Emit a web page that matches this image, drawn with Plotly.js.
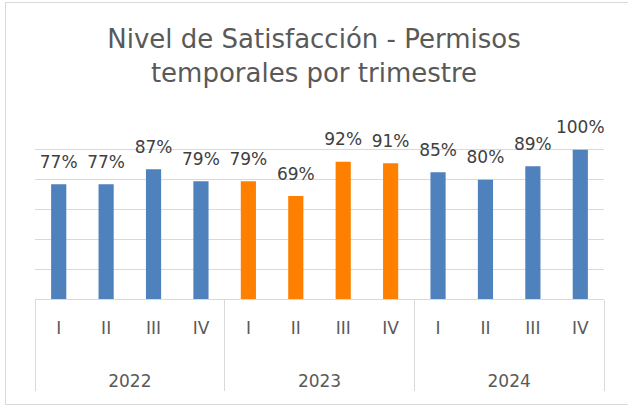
<!DOCTYPE html>
<html>
<head>
<meta charset="utf-8">
<script src="https://cdn.plot.ly/plotly-3.0.1.min.js"></script>
<style>
  body { margin: 0; background: #fff; }
  #wrap { position: relative; width: 628px; height: 406px; overflow: hidden; }
  #frame { position: absolute; left: 5px; top: 2px; width: 640px; height: 401px;
           border: 1px solid #d9d9d9; pointer-events: none; }
</style>
</head>
<body>
<div id="wrap">
  <div id="chart" style="width:628px;height:406px;"></div>
  <div id="frame"></div>
</div>
<script>
// Satisfaction by quarter
const years = ['2022', '2022', '2022', '2022', '2023', '2023', '2023', '2023', '2024', '2024', '2024', '2024'];
const quarters = ['I', 'II', 'III', 'IV', 'I', 'II', 'III', 'IV', 'I', 'II', 'III', 'IV'];
const satisfaction = [0.77, 0.77, 0.87, 0.79, 0.79, 0.69, 0.92, 0.91, 0.85, 0.80, 0.89, 1.00];
const labels = ['77%', '77%', '87%', '79%', '79%', '69%', '92%', '91%', '85%', '80%', '89%', '100%'];

const blue = '#4f81bd';
const orange = '#ff8000';
const barColors = years.map(y => y === '2023' ? orange : blue);

// blank lines under the quarter labels push the year row further down
const quarterTicks = quarters.map(q => q + '<br>\u00a0<br>\u00a0');

const bars = {
    x: [years, quarterTicks],
    y: satisfaction,
    type: 'bar',
    marker: { color: barColors },
    hoverinfo: 'skip',
    showlegend: false
};

// labels floating above the bars
const barLabels = {
    x: [years, quarterTicks],
    y: satisfaction,
    type: 'scatter',
    mode: 'markers+text',
    text: labels,
    textposition: 'top center',
    textfont: { family: 'DejaVu Sans', size: 17, color: '#404040' },
    marker: { size: 18, color: 'rgba(0,0,0,0)' },
    hoverinfo: 'skip',
    showlegend: false,
    cliponaxis: false
};

const layout = {
    width: 628,
    height: 406,
    margin: { l: 35, r: 24, t: 120, b: 107 },
    paper_bgcolor: '#fff',
    plot_bgcolor: '#fff',
    font: { family: 'DejaVu Sans', color: '#595959' },
    title: {
        text: 'Nivel de Satisfacción - Permisos<br>temporales por trimestre',
        font: { family: 'DejaVu Sans', size: 26, color: '#595959' },
        x: 0.5,
        xanchor: 'center',
        y: 1 - 48 / 406,
        yanchor: 'top',
        yref: 'container'
    },
    bargap: 0.68,
    xaxis: {
        type: 'multicategory',
        range: [-0.5, 11.5],
        showline: true,
        linecolor: '#d9d9d9',
        linewidth: 1,
        showgrid: false,
        ticks: '',
        ticklabelstandoff: 14,
        showdividers: true,
        dividercolor: '#d9d9d9',
        dividerwidth: 1,
        tickfont: { family: 'DejaVu Sans', size: 17, color: '#595959' }
    },
    yaxis: {
        range: [0, 1.2],
        dtick: 0.2,
        showticklabels: false,
        showgrid: true,
        gridcolor: '#d9d9d9',
        gridwidth: 1,
        zeroline: false,
        showline: false,
        fixedrange: true
    }
};

Plotly.newPlot('chart', [bars, barLabels], layout, { displayModeBar: false, staticPlot: true });
</script>
</body>
</html>
